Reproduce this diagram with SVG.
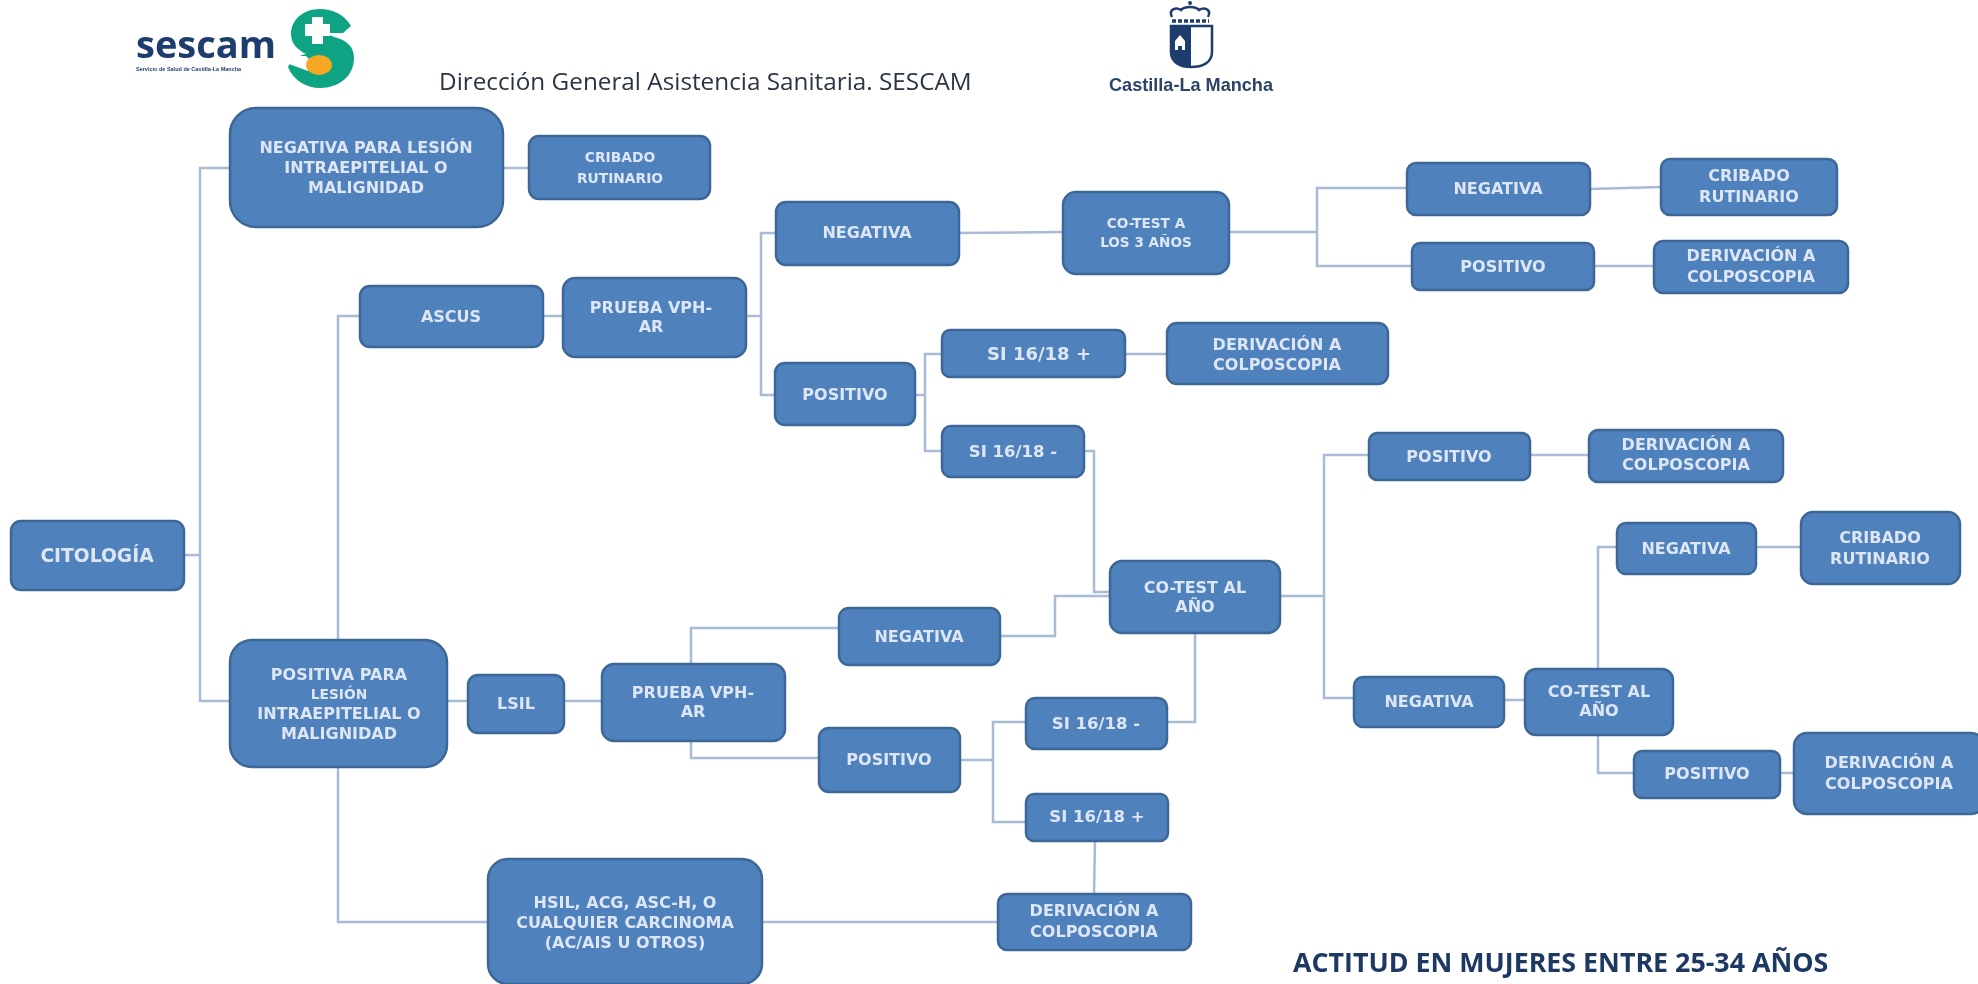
<svg xmlns="http://www.w3.org/2000/svg" width="1978" height="984" viewBox="0 0 1978 984">
<defs>
<filter id="soft" x="-5%" y="-20%" width="110%" height="140%"><feGaussianBlur stdDeviation="0.5"/></filter>
</defs>
<style>
.n{fill:#4f81bd;stroke:#3d6796;stroke-width:2.5}
.t{font-family:"DejaVu Sans","Liberation Sans",sans-serif;font-weight:700;font-size:16px;fill:#dde6f2;text-anchor:middle;filter:url(#soft)}
.s{font-size:13.8px}
.m{font-size:13.6px}
.b{font-size:16.5px}
.c{fill:none;stroke:#a9bbd5;stroke-width:2.5}
.h{font-family:"Open Sans","Liberation Sans",sans-serif;fill:#2a3442}
</style>
<rect width="1978" height="984" fill="#ffffff"/>
<g id="logo-sescam" filter="url(#soft)">
<text x="136" y="58" font-family="'Open Sans','Liberation Sans',sans-serif" font-weight="700" font-size="38" fill="#1f3d6e">sescam</text>
<text x="136" y="71" font-family="'Liberation Sans',sans-serif" font-weight="700" font-size="5.5" fill="#1f3d6e">Servicio de Salud de Castilla-La Mancha</text>
<path d="M351 26C344 14 332 9 320 9C303 9 291 20 291 34C291 44 298 50 306 54C297 56 291 60 288 67C293 80 306 88 320 88C339 88 354 76 354 58C354 46 346 40 334 37L325 33L343 33Z" fill="#11a383"/>
<path d="M305 24h7v-7h11v7h7v12h-7v8h-11v-8h-7z" fill="#ffffff"/>
<path d="M289 64L296 56L306 56L312 62L308 71Z" fill="#ffffff"/>
<ellipse cx="319" cy="65" rx="13" ry="10" fill="#f7a823"/>
</g>
<text class="h" x="439" y="90" font-size="24.3" filter="url(#soft)">Dirección General Asistencia Sanitaria. SESCAM</text>
<g id="logo-castilla" filter="url(#soft)">
<circle cx="1190" cy="3" r="2" fill="#1f3d6e"/>
<path d="M1172 17C1168 9 1176 7 1181 10C1184 6 1196 6 1199 10C1204 7 1212 9 1208 17" fill="#ffffff" stroke="#1f3d6e" stroke-width="2.5"/>
<path d="M1172 21h37" stroke="#1f3d6e" stroke-width="3.5" stroke-dasharray="4 2" fill="none"/>
<path d="M1171 26h41v26c0 11 -10 15 -21 15c-10 0 -20 -4 -20 -15z" fill="#ffffff" stroke="#1f3d6e" stroke-width="2.5"/>
<path d="M1171 26h20v41c-10 0 -20 -4 -20 -15z" fill="#1f3d6e"/>
<path d="M1175 50v-9l5 -6l5 6v9h-3v-4h-4v4z" fill="#ffffff"/>
<text x="1191" y="91" text-anchor="middle" textLength="164" lengthAdjust="spacingAndGlyphs" font-family="'Liberation Sans',sans-serif" font-weight="700" font-size="19" fill="#2a4468">Castilla-La Mancha</text>
</g>
<g id="connectors">
<path class="c" d="M184 555H200M230 168H200V701H230"/>
<path class="c" d="M503 168H529"/>
<path class="c" d="M360 316H338V640M338 767V922H488"/>
<path class="c" d="M543 316H563"/>
<path class="c" d="M746 316H761M776 233H761V395H775"/>
<path class="c" d="M959 233L1063 232"/>
<path class="c" d="M1229 232H1317M1407 188H1317V266H1412"/>
<path class="c" d="M1590 189L1661 187M1594 266H1654"/>
<path class="c" d="M915 395H925M942 354H925V451H942M1125 354H1167"/>
<path class="c" d="M1084 451H1094V592H1110"/>
<path class="c" d="M1000 636H1055V596H1110"/>
<path class="c" d="M839 628H691V664M691 741V758H819"/>
<path class="c" d="M447 701H468M564 701H602"/>
<path class="c" d="M960 760H993M1026 722H993V822H1026"/>
<path class="c" d="M1167 722H1195V633"/>
<path class="c" d="M1095 841L1094 894M762 922H998"/>
<path class="c" d="M1280 596H1324M1369 455H1324V698H1354M1530 455H1589"/>
<path class="c" d="M1504 700H1525"/>
<path class="c" d="M1617 547H1598V669M1598 735V773H1634M1756 547H1801M1780 773H1794"/>
</g>
<g id="citologia"><rect class="n" x="11" y="521" width="173" height="69" rx="10"/><text class="t" style="font-size:18.7px" x="97" y="562">CITOLOGÍA</text></g>
<g id="negativa-lesion"><rect class="n" x="230" y="108" width="273" height="119" rx="26"/><text class="t" x="366" y="153">NEGATIVA PARA LESIÓN</text><text class="t" x="366" y="173">INTRAEPITELIAL O</text><text class="t" x="366" y="193">MALIGNIDAD</text></g>
<g id="cribado-1"><rect class="n" x="529" y="136" width="181" height="63" rx="10"/><text class="t s" x="620" y="162">CRIBADO</text><text class="t s" x="620" y="183">RUTINARIO</text></g>
<g id="ascus"><rect class="n" x="360" y="286" width="183" height="61" rx="10"/><text class="t" x="451" y="322">ASCUS</text></g>
<g id="prueba-1"><rect class="n" x="563" y="278" width="183" height="79" rx="12"/><text class="t" x="651" y="313">PRUEBA VPH-</text><text class="t" x="651" y="332">AR</text></g>
<g id="negativa-1"><rect class="n" x="776" y="202" width="183" height="63" rx="10"/><text class="t" x="867" y="238">NEGATIVA</text></g>
<g id="cotest-3"><rect class="n" x="1063" y="192" width="166" height="82" rx="13"/><text class="t m" x="1146" y="228">CO-TEST A</text><text class="t m" x="1146" y="247">LOS 3 AÑOS</text></g>
<g id="negativa-2"><rect class="n" x="1407" y="163" width="183" height="52" rx="9"/><text class="t" x="1498" y="194">NEGATIVA</text></g>
<g id="cribado-2"><rect class="n" x="1661" y="159" width="176" height="56" rx="9"/><text class="t" x="1749" y="181">CRIBADO</text><text class="t" x="1749" y="202">RUTINARIO</text></g>
<g id="positivo-2"><rect class="n" x="1412" y="243" width="182" height="47" rx="8"/><text class="t" x="1503" y="272">POSITIVO</text></g>
<g id="derivacion-2"><rect class="n" x="1654" y="241" width="194" height="52" rx="9"/><text class="t" x="1751" y="261">DERIVACIÓN A</text><text class="t" x="1751" y="282">COLPOSCOPIA</text></g>
<g id="positivo-1"><rect class="n" x="775" y="363" width="140" height="62" rx="10"/><text class="t" x="845" y="400">POSITIVO</text></g>
<g id="si-mas-1"><rect class="n" x="942" y="330" width="183" height="47" rx="8"/><text class="t" style="font-size:18px" x="1039" y="360">SI 16/18 +</text></g>
<g id="derivacion-1"><rect class="n" x="1167" y="323" width="221" height="61" rx="10"/><text class="t" x="1277" y="350">DERIVACIÓN A</text><text class="t" x="1277" y="370">COLPOSCOPIA</text></g>
<g id="si-menos-1"><rect class="n" x="942" y="426" width="142" height="51" rx="9"/><text class="t b" x="1013" y="457">SI 16/18 -</text></g>
<g id="positivo-3"><rect class="n" x="1369" y="433" width="161" height="47" rx="8"/><text class="t" x="1449" y="462">POSITIVO</text></g>
<g id="derivacion-3"><rect class="n" x="1589" y="430" width="194" height="52" rx="9"/><text class="t" x="1686" y="450">DERIVACIÓN A</text><text class="t" x="1686" y="470">COLPOSCOPIA</text></g>
<g id="cotest-ano-1"><rect class="n" x="1110" y="561" width="170" height="72" rx="12"/><text class="t" x="1195" y="593">CO-TEST AL</text><text class="t" x="1195" y="612">AÑO</text></g>
<g id="negativa-4"><rect class="n" x="1617" y="523" width="139" height="51" rx="9"/><text class="t" x="1686" y="554">NEGATIVA</text></g>
<g id="cribado-3"><rect class="n" x="1801" y="512" width="159" height="72" rx="12"/><text class="t" x="1880" y="543">CRIBADO</text><text class="t" x="1880" y="564">RUTINARIO</text></g>
<g id="cotest-ano-2"><rect class="n" x="1525" y="669" width="148" height="66" rx="11"/><text class="t" x="1599" y="697">CO-TEST AL</text><text class="t" x="1599" y="716">AÑO</text></g>
<g id="negativa-5"><rect class="n" x="1354" y="677" width="150" height="50" rx="9"/><text class="t" x="1429" y="707">NEGATIVA</text></g>
<g id="positivo-5"><rect class="n" x="1634" y="751" width="146" height="47" rx="8"/><text class="t" x="1707" y="779">POSITIVO</text></g>
<g id="derivacion-5"><rect class="n" x="1794" y="733" width="190" height="81" rx="13"/><text class="t" x="1889" y="768">DERIVACIÓN A</text><text class="t" x="1889" y="789">COLPOSCOPIA</text></g>
<g id="negativa-3"><rect class="n" x="839" y="608" width="161" height="57" rx="10"/><text class="t" x="919" y="642">NEGATIVA</text></g>
<g id="positiva-lesion"><rect class="n" x="230" y="640" width="217" height="127" rx="22"/><text class="t" x="339" y="680">POSITIVA PARA</text><text class="t s" x="339" y="699">LESIÓN</text><text class="t" x="339" y="719">INTRAEPITELIAL O</text><text class="t" x="339" y="739">MALIGNIDAD</text></g>
<g id="lsil"><rect class="n" x="468" y="675" width="96" height="58" rx="10"/><text class="t" x="516" y="709">LSIL</text></g>
<g id="prueba-2"><rect class="n" x="602" y="664" width="183" height="77" rx="12"/><text class="t" x="693" y="698">PRUEBA VPH-</text><text class="t" x="693" y="717">AR</text></g>
<g id="positivo-4"><rect class="n" x="819" y="728" width="141" height="64" rx="10"/><text class="t" x="889" y="765">POSITIVO</text></g>
<g id="si-menos-2"><rect class="n" x="1026" y="698" width="141" height="51" rx="9"/><text class="t b" x="1096" y="729">SI 16/18 -</text></g>
<g id="si-mas-2"><rect class="n" x="1026" y="794" width="142" height="47" rx="8"/><text class="t b" x="1097" y="822">SI 16/18 +</text></g>
<g id="derivacion-4"><rect class="n" x="998" y="894" width="193" height="56" rx="9"/><text class="t" x="1094" y="916">DERIVACIÓN A</text><text class="t" x="1094" y="937">COLPOSCOPIA</text></g>
<g id="hsil"><rect class="n" x="488" y="859" width="274" height="125" rx="20"/><text class="t" x="625" y="908">HSIL, ACG, ASC-H, O</text><text class="t" x="625" y="928">CUALQUIER CARCINOMA</text><text class="t" x="625" y="948">(AC/AIS U OTROS)</text></g>
<text x="1293" y="972" font-family="'Open Sans','Liberation Sans',sans-serif" font-size="26.8" font-weight="700" fill="#1f3864" filter="url(#soft)">ACTITUD EN MUJERES ENTRE 25-34 AÑOS</text>
</svg>
